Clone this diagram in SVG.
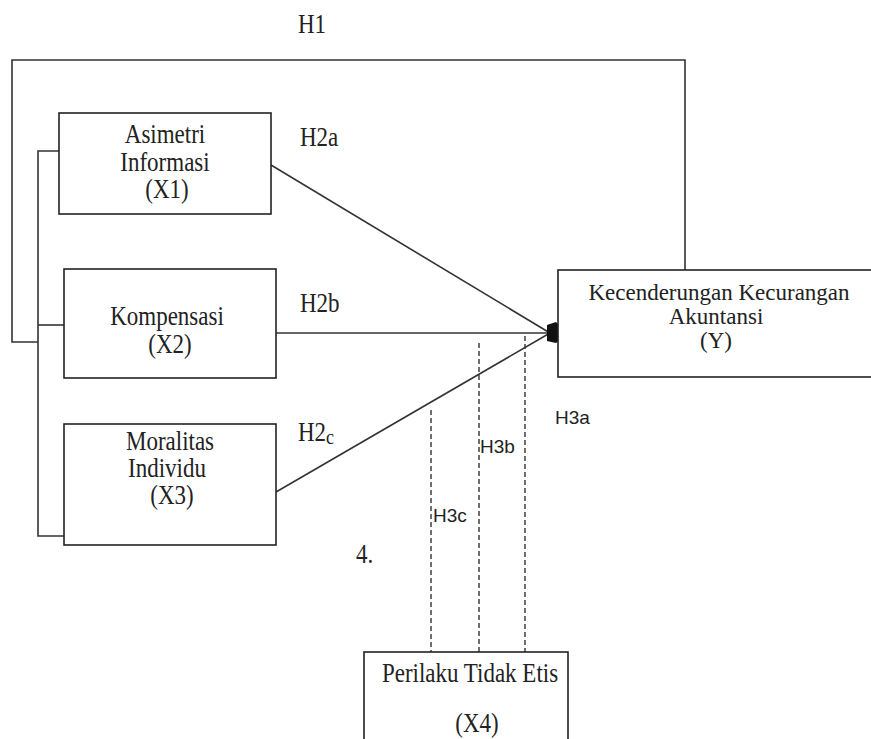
<svg xmlns="http://www.w3.org/2000/svg" width="871" height="739" viewBox="0 0 871 739">
<style>
.box{fill:#fff;stroke:#222;stroke-width:1.6}
.ln{fill:none;stroke:#333;stroke-width:1.6}
.dash{fill:none;stroke:#333;stroke-width:1.4;stroke-dasharray:5 3}
.t{font-family:"Liberation Serif","Times New Roman",serif;font-size:23px;fill:#222}
.c{text-anchor:middle}
.s{font-family:"Liberation Sans",Arial,sans-serif;font-size:19px;fill:#222}
</style>
<rect width="871" height="739" fill="#fff"/>
<g id="connectors">
<polyline class="ln" points="38,342 12,342 12,60 685,60 685,270"/>
<polyline class="ln" points="60,151 38,151 38,536 64,536"/>
<line class="ln" x1="38" y1="325" x2="64" y2="325"/>
<line class="ln" x1="271" y1="165" x2="550" y2="333"/>
<line class="ln" x1="276" y1="333" x2="550" y2="333"/>
<line class="ln" x1="276" y1="492" x2="550" y2="333"/>
<line class="dash" x1="431" y1="410" x2="431" y2="652"/>
<line class="dash" x1="479" y1="343" x2="479" y2="652"/>
<line class="dash" x1="525" y1="336" x2="525" y2="652"/>
<path d="M547,325 L556,322 L559,325 L559,341 L556,343 L547,341 Z" fill="#111"/>
<text class="t" transform="translate(298 33) scale(1 1.15)">H1</text>
<text class="t" transform="translate(300 146) scale(1 1.15)">H2a</text>
<text class="t" transform="translate(300 312) scale(1 1.15)">H2b</text>
<text class="t" transform="translate(298 441) scale(1 1.15)">H2<tspan font-size="18" dy="3">c</tspan></text>
<text class="s" x="555" y="424">H3a</text>
<text class="s" x="480" y="453">H3b</text>
<text class="s" x="433" y="522">H3c</text>
<text class="t" transform="translate(356 563) scale(1 1.15)">4.</text>
</g>
<g id="X1">
<rect class="box" x="59" y="113" width="212" height="101"/>
<text class="t c" transform="translate(165 143) scale(1 1.15)">Asimetri</text>
<text class="t c" transform="translate(165 171) scale(1 1.15)">Informasi</text>
<text class="t c" transform="translate(167 198) scale(1 1.15)">(X1)</text>
</g>
<g id="X2">
<rect class="box" x="64" y="269" width="212" height="109"/>
<text class="t c" transform="translate(167 325) scale(1 1.15)">Kompensasi</text>
<text class="t c" transform="translate(170 353) scale(1 1.15)">(X2)</text>
</g>
<g id="X3">
<rect class="box" x="64" y="424" width="212" height="121"/>
<text class="t c" transform="translate(170 450) scale(1 1.15)">Moralitas</text>
<text class="t c" transform="translate(167 477) scale(1 1.15)">Individu</text>
<text class="t c" transform="translate(172 504) scale(1 1.15)">(X3)</text>
</g>
<g id="Y">
<rect class="box" x="558" y="270" width="330" height="107"/>
<text class="t c" x="719" y="300" font-size="22.5">Kecenderungan Kecurangan</text>
<text class="t c" x="716" y="324" font-size="22.5">Akuntansi</text>
<text class="t c" x="716" y="348" font-size="22.5">(Y)</text>
</g>
<g id="X4">
<rect class="box" x="364" y="652" width="204" height="100"/>
<text class="t c" transform="translate(470 682) scale(1 1.15)">Perilaku Tidak Etis</text>
<text class="t c" transform="translate(477 732) scale(1 1.15)">(X4)</text>
</g>
</svg>
